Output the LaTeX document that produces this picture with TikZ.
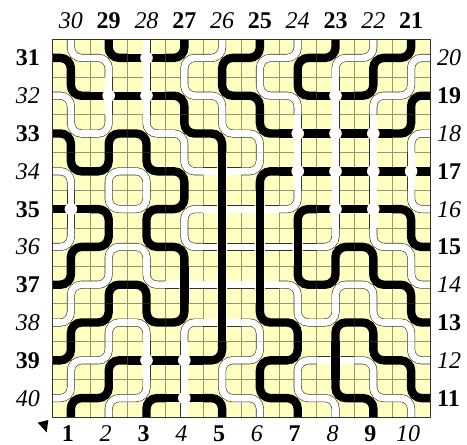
\documentclass[tikz,border=0pt]{standalone}
\usepackage{fontspec}
\setmainfont{Liberation Serif}
\definecolor{tileyellow}{RGB}{255,255,194}
\definecolor{edgegray}{RGB}{50,50,50}
\definecolor{seamcol}{RGB}{150,150,115}
\def\wAW{NE}\def\bAW{SW}
\def\wAK{SW}\def\bAK{NE}
\def\wBW{NW}\def\bBW{SE}
\def\wBK{SE}\def\bBK{NW}
\def\wXW{V}\def\bXW{H}
\def\wXK{H}\def\bXK{V}
\def\strNE{NE}\def\strSW{SW}\def\strNW{NW}\def\strSE{SE}\def\strV{V}\def\strH{H}
\def\strXW{XW}\def\strXK{XK}
\newcommand\tilepiece[2]{%
  \edef\tmp{#1}%
  \ifx\tmp\strNE \draw[#2] (\cx,\cy-18.9) -- (\cx,\cy) -- (\cx+18.9,\cy);\fi
  \ifx\tmp\strSW \draw[#2] (\cx-18.9,\cy) -- (\cx,\cy) -- (\cx,\cy+18.9);\fi
  \ifx\tmp\strNW \draw[#2] (\cx,\cy-18.9) -- (\cx,\cy) -- (\cx-18.9,\cy);\fi
  \ifx\tmp\strSE \draw[#2] (\cx+18.9,\cy) -- (\cx,\cy) -- (\cx,\cy+18.9);\fi
  \ifx\tmp\strV \draw[#2] (\cx,\cy-18.9) -- (\cx,\cy+18.9);\fi
  \ifx\tmp\strH \draw[#2] (\cx-18.9,\cy) -- (\cx+18.9,\cy);\fi
}
\def\tilerows{%
{AW,AK,XW,BK,BW,BK,BW,BK,BW,BK},%
{AK,XW,XW,AW,AK,AW,AK,XW,BK,BW},%
{AW,BW,AW,AK,AW,AK,XW,XW,XW,BK},%
{AK,BK,AK,AW,XK,BW,XW,XW,XW,XW},%
{XW,AW,BW,BK,XK,XK,BW,XW,XW,AW},%
{BW,BK,AK,AW,XK,XK,XK,BW,AW,AK},%
{BK,BW,AW,XK,XK,XK,AK,BK,AK,AW},%
{BW,BK,AK,BK,XK,AK,AW,BW,AW,AK},%
{BK,BW,XW,XW,BK,BW,BK,XK,AK,AW},%
{BW,BK,BW,XW,AW,AK,AW,AK,AW,AK}%
}
\newcommand\alltiles[1]{%
  \foreach \row [count=\j] in \tilerows {%
    \foreach \code [count=\i] in \row {%
      \pgfmathsetmacro\cx{52+37.8*(\i-0.5)}%
      \pgfmathsetmacro\cy{39+37.8*(\j-0.5)}%
      #1%
    }%
  }%
}
\tikzset{
  wline/.style={line width=8pt, draw=edgegray, rounded corners=10.5pt},
  wfill/.style={line width=6.8pt, draw=white, rounded corners=10.5pt},
  kline/.style={line width=8.4pt, draw=black, rounded corners=10.5pt},
  gridline/.style={line width=0.3pt, draw=seamcol},
  lab/.style={font=\fontsize{24}{28}\selectfont, inner sep=0pt},
}
\begin{document}
\begin{tikzpicture}[x=1pt,y=-1pt]
\useasboundingbox (0,0) rectangle (467,445);
\fill[tileyellow] (52,39) rectangle (430,417);
\foreach \k in {1,...,9} {
  \draw[gridline] (52+37.8*\k,39) -- (52+37.8*\k,417);
  \draw[gridline] (52,39+37.8*\k) -- (430,39+37.8*\k);
}
% white paths: outline, then core
\alltiles{\tilepiece{\csname w\code\endcsname}{wline}}
\alltiles{\tilepiece{\csname w\code\endcsname}{wfill}}
% white dots under black-over-white crossings
\alltiles{\edef\tmpc{\code}\ifx\tmpc\strXK \fill[white] (\cx,\cy) circle (6.3pt);\fi}
% black paths
\alltiles{\tilepiece{\csname b\code\endcsname}{kline}}
% white-over-black crossings
\alltiles{\edef\tmpc{\code}\ifx\tmpc\strXW \fill[white] (\cx,\cy) circle (6.3pt); \draw[white,line width=6.8pt] (\cx,\cy-8) -- (\cx,\cy+8);\fi}
\draw[edgegray, line width=0.8pt] (52,39) rectangle (430,417);
% labels
\foreach \i in {1,...,10} {
  \pgfmathsetmacro\cx{52+37.8*(\i-0.5)}
  \pgfmathsetmacro\cy{39+37.8*(\i-0.5)}
  \pgfmathtruncatemacro\nt{31-\i}
  \pgfmathtruncatemacro\nl{30+\i}
  \pgfmathtruncatemacro\nr{21-\i}
  \node[lab, anchor=base] (top\i) at (\cx,28) {\ifodd\nt\relax\bfseries\else\itshape\fi\nt};
  \node[lab, anchor=base] (bot\i) at (\cx-3,441) {\ifodd\i\relax\bfseries\else\itshape\fi\i};
  \node[lab, anchor=base east] (lft\i) at (40,\cy+8) {\ifodd\nl\relax\bfseries\else\itshape\fi\nl};
  \node[lab, anchor=base west] (rgt\i) at (437,\cy+8) {\ifodd\nr\relax\bfseries\else\itshape\fi\nr};
}
\fill[black] (37.7,422.7) -- (48.3,420) -- (46.7,432.3) -- cycle;
\end{tikzpicture}
\end{document}
